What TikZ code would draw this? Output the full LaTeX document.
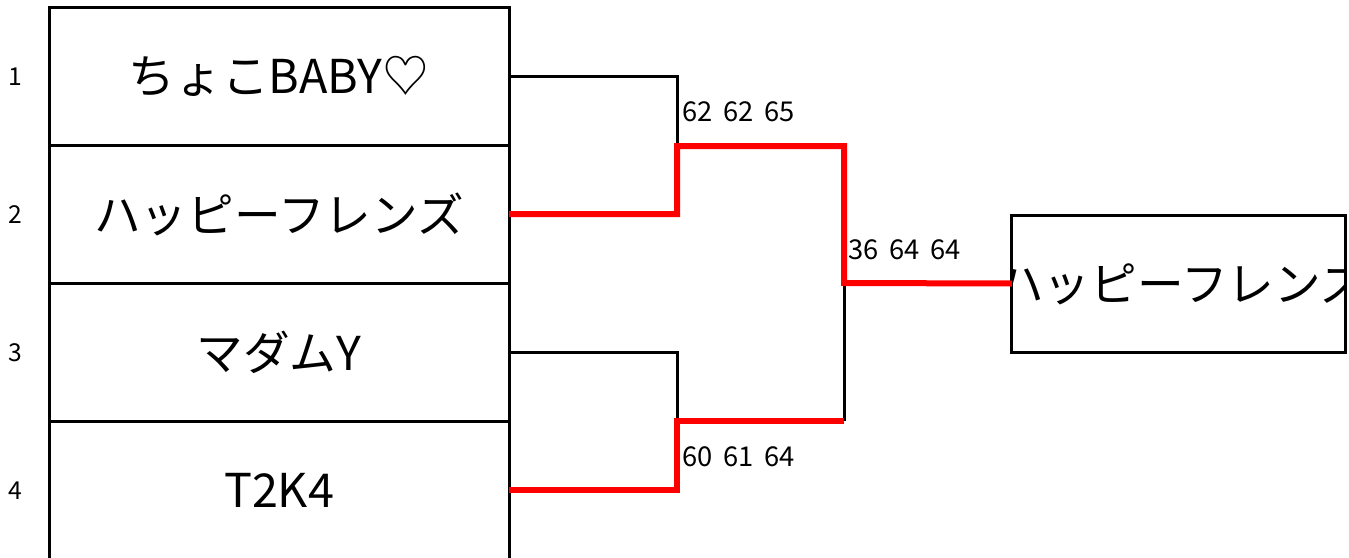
\documentclass[tikz,border=0pt]{standalone}
\usepackage{fontspec}
\setmainfont{Noto Sans CJK JP}
\begin{document}
\begin{tikzpicture}[x=0.75pt,y=-0.75pt,
  rowbox/.style={draw, line width=2.25pt, minimum width=345pt, minimum height=103.5pt,
                 inner sep=0pt, outer sep=0pt, font=\fontsize{35}{40}\selectfont},
  winbox/.style={draw, line width=2.25pt, minimum width=250pt, minimum height=102.75pt,
                 inner sep=0pt, outer sep=0pt},
  seed/.style={font=\fontsize{18.5}{20}\selectfont, inner sep=0pt},
  score/.style={font=\fontsize{20.5}{22}\selectfont, anchor=west, inner sep=0pt},
  blackline/.style={line width=2.25pt, black},
  redline/.style={line width=4.5pt, red}]
\useasboundingbox (0,0) rectangle (1349,557);
\clip (0,0) rectangle (1349,557);
\fill[white] (0,0) rectangle (1349,557);

% entry boxes
\node[rowbox] (r1) at (279,76.5) {ちょこBABY♡};
\node[rowbox] (r2) at (279,214) {ハッピーフレンズ};
\node[rowbox] (r3) at (279,352) {マダムY};
\node[rowbox] (r4) at (279,490) {T2K4};

% seed numbers
\node[seed] (s1) at (15,77) {1};
\node[seed] (s2) at (15,215) {2};
\node[seed] (s3) at (15,353) {3};
\node[seed] (s4) at (15,491) {4};

% bracket corner points
\coordinate (c1) at (677,146);
\coordinate (c2) at (677,421);
\coordinate (c3) at (844,283);
\coordinate (c4) at (844,421);

% winner box
\node[winbox] (w) at (1178.5,283.5) {};
\begin{scope}
  \clip (1013,216) rectangle (1344,351);
  \node[font=\fontsize{35}{40}\selectfont, inner sep=0pt] (wt) at (1182,283) {ハッピーフレンズ};
\end{scope}

% losing paths
\draw[blackline] (r1.east |- 0,76.5) -| (c1);
\draw[blackline] (r3.east) -| (c2);
\draw[blackline] (c3) -- (c4);

% winning paths
\draw[redline] (r2.east) -| (c1) -| (c3) -- (w.west);
\draw[redline] (r4.east) -| (c2) -- (c4);

% scores
\node[score] (sc1) at (682,112) {62\,\ 62\,\ 65};
\node[score] (sc2) at (848,250) {36\,\ 64\,\ 64};
\node[score] (sc3) at (682,457) {60\,\ 61\,\ 64};
\end{tikzpicture}
\end{document}
